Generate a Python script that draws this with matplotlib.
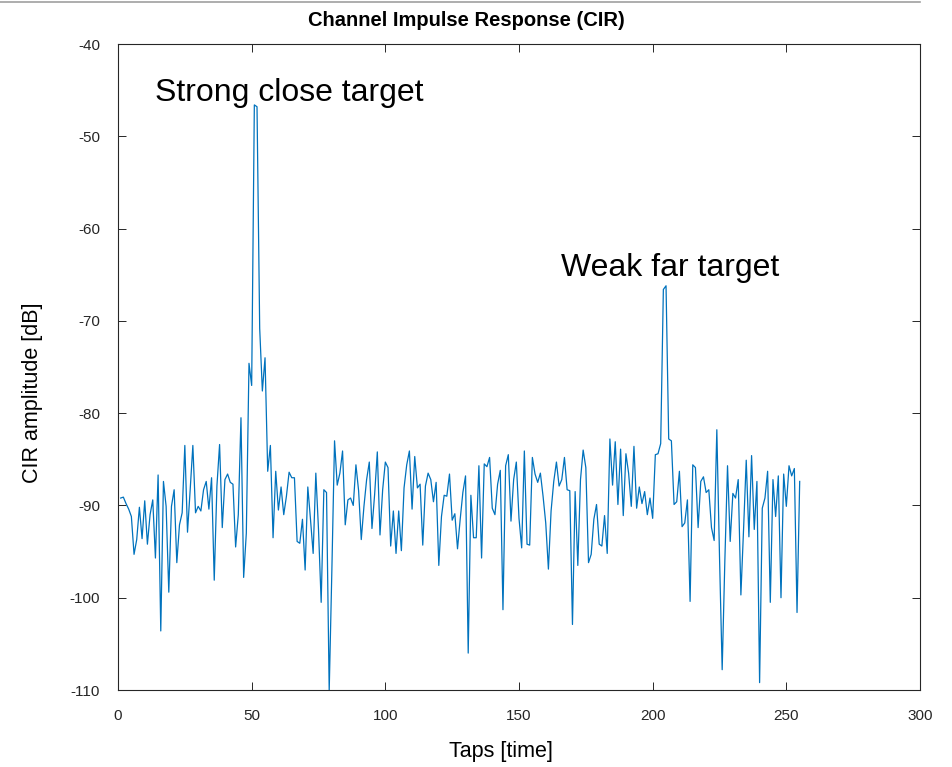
import matplotlib
matplotlib.use("Agg")
import matplotlib.pyplot as plt
from matplotlib.lines import Line2D

plt.rcParams['font.family'] = ['Liberation Sans', 'DejaVu Sans']
plt.rcParams['axes.unicode_minus'] = False

# CIR amplitude per tap (dB)
cir_db = [
    -89.2, -89.1, -89.8, -90.4, -91.2, -95.3, -93.7, -90.2, -93.6, -89.5,
    -94.2, -91.0, -89.4, -95.7, -86.7, -103.6, -87.4, -90.1, -99.4, -90.1,
    -88.3, -96.2, -92.1, -90.8, -83.5, -92.9, -88.3, -83.5, -90.8, -90.1,
    -90.6, -88.3, -87.4, -90.4, -87.0, -98.1, -87.9, -83.4, -92.4, -87.2,
    -86.6, -87.5, -87.7, -94.5, -91.0, -80.5, -97.8, -93.0, -74.6, -77.0,
    -46.6, -46.8, -70.8, -77.6, -74.0, -86.3, -83.5, -93.5, -86.3, -90.5,
    -88.0, -91.0, -89.0, -86.4, -87.0, -87.0, -93.9, -94.1, -91.5, -97.0,
    -88.0, -91.5, -95.2, -86.5, -92.6, -100.5, -88.3, -88.6, -110.1, -97.0,
    -83.0, -87.8, -86.5, -84.1, -92.1, -89.4, -89.2, -90.0, -85.6, -88.4,
    -93.7, -90.1, -87.2, -85.3, -92.5, -88.8, -84.2, -93.2, -88.3, -85.3,
    -85.9, -94.4, -90.6, -95.2, -90.6, -94.9, -88.1, -85.6, -84.1, -90.4,
    -84.7, -88.1, -87.7, -94.3, -87.9, -86.5, -87.2, -89.6, -87.5, -96.5,
    -91.2, -88.9, -89.0, -86.6, -91.6, -90.9, -94.7, -91.5, -88.6, -86.8,
    -106.0, -88.9, -93.5, -93.5, -85.7, -95.7, -85.5, -85.8, -84.8, -90.3,
    -91.0, -87.7, -86.2, -101.3, -85.7, -84.5, -91.7, -87.2, -85.3, -91.4,
    -94.6, -84.1, -94.2, -94.3, -84.8, -86.6, -87.5, -86.5, -89.0, -91.9,
    -96.9, -90.6, -87.4, -85.3, -87.9, -87.2, -84.8, -88.3, -88.4, -102.9,
    -88.5, -96.5, -87.2, -84.0, -85.9, -96.2, -95.3, -91.5, -89.9, -94.2,
    -94.4, -91.1, -95.2, -82.8, -87.8, -83.1, -89.9, -83.9, -91.1, -84.4,
    -86.5, -90.1, -83.6, -90.3, -88.0, -89.8, -88.5, -91.0, -89.2, -91.4,
    -84.5, -84.4, -83.3, -66.6, -66.2, -82.8, -83.0, -89.9, -89.6, -86.3,
    -92.3, -91.9, -89.4, -100.4, -85.6, -85.9, -92.4, -87.4, -86.9, -88.6,
    -88.3, -92.4, -93.8, -81.8, -95.5, -107.8, -96.0, -85.7, -93.9, -88.7,
    -89.2, -87.2, -99.7, -92.6, -85.1, -93.4, -84.6, -92.6, -87.4, -109.2,
    -90.3, -89.2, -86.3, -100.5, -87.2, -91.2, -86.8, -100.0, -86.6, -90.1,
    -85.7, -86.8, -86.0, -101.6, -87.4,
]
taps = list(range(1, len(cir_db) + 1))

x_ticks = [0, 50, 100, 150, 200, 250, 300]
y_ticks = [-110, -100, -90, -80, -70, -60, -50, -40]

fig = plt.figure(figsize=(9.53, 7.67), dpi=100)
ax = fig.add_axes([118/953, 1-690/767, 802/953, 646/767])

ax.plot(taps, cir_db, color='#0072BD', lw=0.9)

ax.set_xlim(0, 300)
ax.set_ylim(-110, -40)
ax.set_xticks(x_ticks)
ax.set_yticks(y_ticks)
ax.tick_params(direction='in', length=6, width=0.7, colors='#262626',
               labelsize=11, top=True, right=True)
ax.tick_params(axis='x', pad=14)
ax.tick_params(axis='y', pad=13)
for s in ax.spines.values():
    s.set_color('#262626')
    s.set_linewidth(0.8)

# title and axis labels sit a bit off-centre in the reference
fig.text(466/953, 1-20/767, 'Channel Impulse Response (CIR)', fontsize=14.5,
         fontweight='bold', ha='center', va='center')
fig.text(501/953, 1-752/767, 'Taps [time]', fontsize=15.5, ha='center', va='center')
fig.text(33/953, 1-393/767, 'CIR amplitude [dB]', fontsize=15.5, rotation=90,
         ha='center', va='center')

ax.text(13.8, -45.3, 'Strong close target', fontsize=23, va='center', ha='left')
ax.text(165.7, -64.3, 'Weak far target', fontsize=23, va='center', ha='left')

# thin grey border line at the top of the image
fig.add_artist(Line2D([0, 920/953], [1-2/767, 1-2/767], color='#a0a0a0', lw=1.2,
                      transform=fig.transFigure))

fig.savefig('out.png', dpi=100)
